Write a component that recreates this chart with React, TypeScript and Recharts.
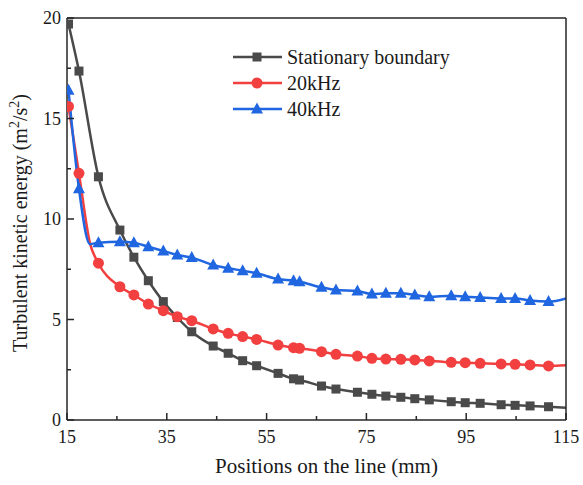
import React from "react";
import { Legend, Line, LineChart, XAxis, YAxis } from "recharts";

// positions along the line (mm)
const POSITIONS = [
  15.3, 17.4, 19.6, 21.3, 25.6, 28.4, 31.3, 34.3, 37.1, 40.0, 44.3, 47.3,
  50.2, 53.0, 57.3, 60.4, 61.6, 66.0, 68.9, 73.2, 76.1, 78.9, 81.9, 84.7,
  87.6, 92.0, 94.8, 97.8, 102.0, 104.8, 107.8, 111.5, 115,
];

const STATIONARY = [
  19.7, 17.36, null, 12.1, 9.45, 8.1, 6.93, 5.89, 5.1, 4.39, 3.68, 3.32, 2.95,
  2.7, 2.32, 2.05, 1.99, 1.69, 1.54, 1.38, 1.28, 1.19, 1.13, 1.06, 1.0, 0.91,
  0.86, 0.83, 0.76, 0.73, 0.7, 0.66, 0.61,
];

const KHZ20 = [
  15.6, 12.27, 8.8, 7.8, 6.63, 6.22, 5.77, 5.44, 5.14, 4.94, 4.53, 4.31, 4.15,
  4.01, 3.73, 3.6, 3.57, 3.4, 3.27, 3.18, 3.07, 3.03, 3.02, 2.99, 2.94, 2.87,
  2.85, 2.82, 2.79, 2.77, 2.74, 2.69, 2.72,
];

const KHZ40 = [
  16.4, 11.5, 8.75, 8.82, 8.87, 8.82, 8.62, 8.41, 8.21, 8.08, 7.71, 7.55, 7.43,
  7.3, 7.01, 6.93, 6.88, 6.6, 6.47, 6.42, 6.27, 6.3, 6.3, 6.22, 6.13, 6.18,
  6.13, 6.09, 6.05, 6.05, 5.94, 5.89, 6.05,
];

// points drawn on the curve but without a marker
const NO_MARKER = [2, POSITIONS.length - 1];

const X_TICKS = [15, 25, 35, 45, 55, 65, 75, 85, 95, 105, 115];
const X_MAJOR = [15, 35, 55, 75, 95, 115];
const Y_TICKS = [0, 2.5, 5, 7.5, 10, 12.5, 15, 17.5, 20];
const Y_MAJOR = [0, 5, 10, 15, 20];

const SERIES = [
  { key: "stationary", name: "Stationary boundary", color: "#4a4a4a", shape: "square" },
  { key: "khz20", name: "20kHz", color: "#f23f3f", shape: "circle" },
  { key: "khz40", name: "40kHz", color: "#1f66e0", shape: "triangle" },
];

const FONT = '"Liberation Serif", "Times New Roman", serif';
const AXIS = "#262626";

const data = POSITIONS.map((x, i) => ({
  x,
  stationary: STATIONARY[i],
  khz20: KHZ20[i],
  khz40: KHZ40[i],
}));

const Marker = ({ shape, color, cx, cy }: any) => {
  if (shape === "square")
    return <rect x={cx - 4.5} y={cy - 4.5} width={9} height={9} fill={color} />;
  if (shape === "circle") return <circle cx={cx} cy={cy} r={5.5} fill={color} />;
  return (
    <polygon
      points={`${cx},${cy - 6.5} ${cx - 6},${cy + 4.5} ${cx + 6},${cy + 4.5}`}
      fill={color}
    />
  );
};

const makeDot = (shape: string, color: string) => (props: any) => {
  const { cx, cy, index } = props;
  if (cx == null || cy == null || NO_MARKER.includes(index))
    return <g key={`dot-${index}`} />;
  return (
    <g key={`dot-${index}`}>
      <Marker shape={shape} color={color} cx={cx} cy={cy} />
    </g>
  );
};

const XTick = ({ x, y, payload }: any) => {
  const major = X_MAJOR.includes(payload.value);
  return (
    <g>
      <line x1={x} x2={x} y1={y} y2={y - (major ? 7 : 4)} stroke={AXIS} strokeWidth={1.5} />
      {major && (
        <text x={x} y={y + 23} textAnchor="middle" fontSize={18} fontFamily={FONT} fill="#1a1a1a">
          {payload.value}
        </text>
      )}
    </g>
  );
};

const YTick = ({ x, y, payload }: any) => {
  const major = Y_MAJOR.includes(payload.value);
  return (
    <g>
      <line x1={x} x2={x + (major ? 7 : 4)} y1={y} y2={y} stroke={AXIS} strokeWidth={1.5} />
      {major && (
        <text x={x - 6} y={y + 6} textAnchor="end" fontSize={18} fontFamily={FONT} fill="#1a1a1a">
          {payload.value}
        </text>
      )}
    </g>
  );
};

const renderLegend = () => (
  <div>
    {SERIES.map((s) => (
      <svg key={s.key} width={260} height={26} style={{ display: "block" }}>
        <line x1={3} x2={52} y1={13} y2={13} stroke={s.color} strokeWidth={2.5} />
        <Marker shape={s.shape} color={s.color} cx={27} cy={13} />
        <text x={57} y={20} fontSize={20} fontFamily={FONT} fill="#1a1a1a">
          {s.name}
        </text>
      </svg>
    ))}
  </div>
);

const App: React.FC = () => {
  return (
    <div style={{ width: 583, height: 485, background: "#fff" }}>
      <style>{`body{margin:0}`}</style>
      <LineChart
        width={583}
        height={485}
        data={data}
        margin={{ top: 17, right: 16, bottom: 0, left: 0 }}
      >
        <XAxis
          dataKey="x"
          type="number"
          domain={[15, 115]}
          ticks={X_TICKS}
          interval={0}
          height={65}
          tickSize={0}
          tickMargin={0}
          tickLine={false}
          tick={<XTick />}
          axisLine={{ stroke: AXIS, strokeWidth: 1.5 }}
          allowDataOverflow
          label={(props: any) => {
            const vb = props.viewBox || { x: 67, width: 499 };
            return (
              <text
                x={vb.x + vb.width / 2 + 10}
                y={473}
                textAnchor="middle"
                fontSize={21}
                fontFamily={FONT}
                fill="#1a1a1a"
              >
                Positions on the line (mm)
              </text>
            );
          }}
        />
        <XAxis
          xAxisId="top"
          orientation="top"
          dataKey="x"
          type="number"
          domain={[15, 115]}
          height={1}
          tick={false}
          tickLine={false}
          axisLine={{ stroke: AXIS, strokeWidth: 1.5 }}
        />
        <YAxis
          type="number"
          domain={[0, 20]}
          ticks={Y_TICKS}
          interval={0}
          width={67}
          tickSize={0}
          tickMargin={0}
          tickLine={false}
          tick={<YTick />}
          axisLine={{ stroke: AXIS, strokeWidth: 1.5 }}
          allowDataOverflow
          label={() => (
            <text
              transform="translate(27, 223) rotate(-90)"
              textAnchor="middle"
              fontSize={20}
              fontFamily={FONT}
              fill="#1a1a1a"
            >
              Turbulent kinetic energy (m
              <tspan dy={-8} fontSize={14}>2</tspan>
              <tspan dy={8}>/s</tspan>
              <tspan dy={-8} fontSize={14}>2</tspan>
              <tspan dy={8}>)</tspan>
            </text>
          )}
        />
        <YAxis
          yAxisId="right"
          orientation="right"
          type="number"
          domain={[0, 20]}
          width={1}
          tick={false}
          tickLine={false}
          axisLine={{ stroke: AXIS, strokeWidth: 1.5 }}
        />
        <Legend
          layout="vertical"
          align="center"
          verticalAlign="middle"
          content={renderLegend}
          wrapperStyle={{ position: "absolute", left: 230, top: 44, width: 260 }}
        />
        {SERIES.map((s) => (
          <Line
            key={s.key}
            dataKey={s.key}
            name={s.name}
            type="monotone"
            stroke={s.color}
            strokeWidth={2.5}
            dot={makeDot(s.shape, s.color)}
            activeDot={false}
            connectNulls
            isAnimationActive={false}
          />
        ))}
        {/* invisible series so the top and right frame axes get drawn */}
        <Line
          xAxisId="top"
          yAxisId="right"
          dataKey="stationary"
          stroke="none"
          dot={false}
          activeDot={false}
          legendType="none"
          isAnimationActive={false}
        />
      </LineChart>
    </div>
  );
};

export default App;
